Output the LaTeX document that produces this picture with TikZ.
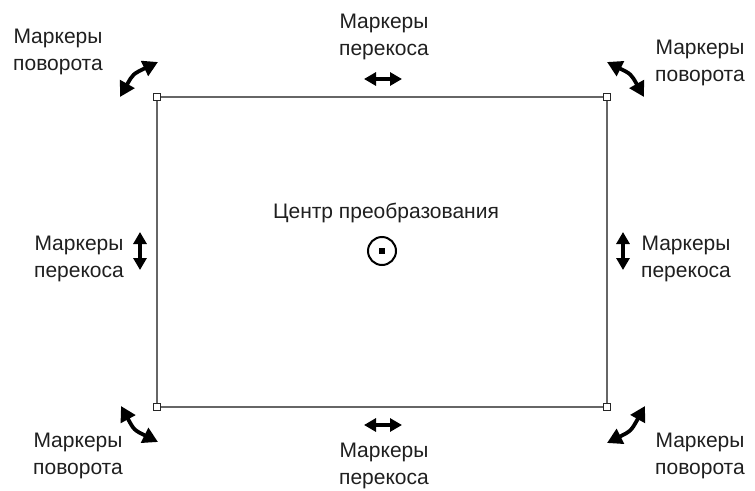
\documentclass[tikz,border=0pt]{standalone}
\usepackage{fontspec}
\setmainfont{Liberation Sans}
\usetikzlibrary{arrows.meta}
\begin{document}
\begin{tikzpicture}[x=1pt,y=-1pt,
  lbl/.style={font=\fontsize{21}{27}\selectfont, align=center, inner sep=0pt, text=black!88},
  frame/.style={draw=black!60, line width=2.2pt},
  handle/.style={draw=black!85, fill=white, line width=1.4pt, minimum size=6.5pt, inner sep=0pt},
  skewarrow/.style={line width=3.4pt, {Triangle[length=12pt,width=13pt]}-{Triangle[length=12pt,width=13pt]}},
  rotarrow/.style={line width=3.8pt, {Triangle[length=15pt,width=16pt]}-{Triangle[length=15pt,width=16pt]}},
]
\useasboundingbox (0,0) rectangle (755,490);

% object frame with its corner handles
\draw[frame] (157,97) rectangle (607,407);
\node[handle] (hnw) at (157,97) {};
\node[handle] (hne) at (607,97) {};
\node[handle] (hsw) at (157,407) {};
\node[handle] (hse) at (607,407) {};

% centre of transformation
\node[circle, draw, line width=2pt, minimum size=28pt, inner sep=0pt] (ctr) at (382,251) {};
\node[fill, minimum size=5.5pt, inner sep=0pt] (ctrdot) at (ctr) {};
\node[lbl] (ctrlbl) at (386,213) {Центр преобразования};

% rotation handles (curved double arrows round the corners)
\coordinate (r1a) at (120,97);  \coordinate (r1b) at (158,62);
\coordinate (r2a) at (607,62);  \coordinate (r2b) at (644,97);
\coordinate (r3a) at (121,406); \coordinate (r3b) at (158,442);
\coordinate (r4a) at (645,406); \coordinate (r4b) at (607,443);
\draw[rotarrow] (r1a) .. controls (133,74) .. (r1b);
\draw[rotarrow] (r2a) .. controls (631,74) .. (r2b);
\draw[rotarrow] (r3a) .. controls (134,430) .. (r3b);
\draw[rotarrow] (r4a) .. controls (631,431) .. (r4b);

% skew handles (straight double arrows at mid-sides)
\coordinate (s1a) at (364,79);  \coordinate (s1b) at (402,79);
\coordinate (s2a) at (364,425); \coordinate (s2b) at (402,425);
\coordinate (s3a) at (140,232); \coordinate (s3b) at (140,270);
\coordinate (s4a) at (623,232); \coordinate (s4b) at (623,270);
\draw[skewarrow] (s1a) -- (s1b);
\draw[skewarrow] (s2a) -- (s2b);
\draw[skewarrow] (s3a) -- (s3b);
\draw[skewarrow] (s4a) -- (s4b);

% labels
\node[lbl] (ltl) at (58,52)  {Маркеры\\поворота};
\node[lbl] (ltr) at (700,63) {Маркеры\\поворота};
\node[lbl] (lbl) at (78,456) {Маркеры\\поворота};
\node[lbl] (lbr) at (700,456) {Маркеры\\поворота};
\node[lbl] (lt)  at (384,37) {Маркеры\\перекоса};
\node[lbl] (lb)  at (384,466) {Маркеры\\перекоса};
\node[lbl] (ll)  at (79,259) {Маркеры\\перекоса};
\node[lbl] (lr)  at (686,259) {Маркеры\\перекоса};
\end{tikzpicture}
\end{document}
